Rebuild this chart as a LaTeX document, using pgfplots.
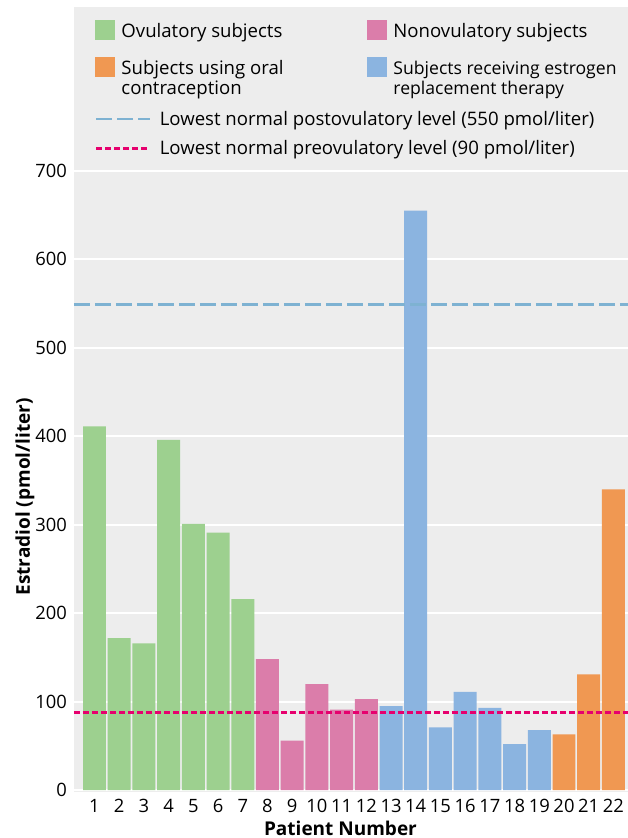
\documentclass[border=0pt]{standalone}
\usepackage{fontspec}
\setmainfont{Open Sans}
\usepackage{pgfplots}
\pgfplotsset{compat=1.18}
\definecolor{cgreen}{RGB}{157,208,143}
\definecolor{cpink}{RGB}{219,125,170}
\definecolor{cblue}{RGB}{139,180,224}
\definecolor{corange}{RGB}{240,152,82}
\definecolor{bg}{RGB}{237,237,237}
\definecolor{lblue}{RGB}{126,178,210}
\definecolor{lred}{RGB}{230,0,110}
\begin{document}
\begin{tikzpicture}
\pgfplotsset{
 common/.style={
  scale only axis, width=277pt, height=392.5pt,
  xmin=0.17, xmax=22.59, ymin=-2, ymax=885,
  axis line style={draw=none},
  /pgf/number format/assume math mode=true,
  major tick length=0pt,
 }
}
\begin{axis}[common,
  axis background/.style={fill=bg},
  ybar, bar width=0.93, bar shift=0pt,
  xtick={1,...,22}, ytick={0,100,...,700},
  ymajorgrids, grid style={white, line width=0.9pt},
  tick label style={font=\fontsize{9.2}{10}\selectfont, black},
  ylabel={Estradiol (pmol/liter)}, xlabel={Patient Number},
  every axis y label/.style={at={(rel axis cs:0,0.376)}, rotate=90, anchor=center, yshift=24.5pt,
     font=\bfseries\fontsize{9.5}{11}\selectfont},
  every axis x label/.style={at={(rel axis cs:0.481,0)}, anchor=center, yshift=-18pt,
     font=\bfseries\fontsize{9.5}{11}\selectfont},
  legend columns=2,
  legend cell align=left,
  legend image code/.code={\fill[#1] (0pt,-1.2pt) rectangle (10pt,8.7pt);},
  legend style={at={(rel axis cs:0.038,0.985)}, anchor=north west, draw=none, fill=none,
     font=\fontsize{9.3}{10}\selectfont, row sep=6pt, inner sep=0pt,
     cells={anchor=base west},
     /tikz/every odd column/.append style={column sep=1pt},
     /tikz/every even column/.append style={column sep=0pt}},
]
\coordinate (SW) at (rel axis cs:0,0);
\coordinate (NE) at (rel axis cs:1,1);
\addplot[draw=none, fill=cgreen] coordinates {(1,411) (2,172) (3,166) (4,396) (5,301) (6,291) (7,216)};
\addlegendentry{\makebox[121pt][l]{Ovulatory subjects}}
\addplot[draw=none, fill=cpink] coordinates {(8,148) (9,56) (10,120) (11,91) (12,103)};
\addlegendentry{Nonovulatory subjects}
\addplot[draw=none, fill=corange] coordinates {(20,63) (21,131) (22,340)};
\addlegendentry{\parbox[t]{121pt}{Subjects using oral\\contraception}}
\addplot[draw=none, fill=cblue] coordinates {(13,95) (14,655) (15,71) (16,111) (17,93) (18,52) (19,68)};
\addlegendentry{\parbox[t]{125pt}{\fontsize{8.8}{10}\selectfont Subjects receiving estrogen\\replacement therapy}}
\end{axis}
\begin{axis}[common,
  axis lines=none, xtick=\empty, ytick=\empty,
  legend cell align=left,
  legend image code/.code={\draw[#1] (0pt,3pt) -- (27pt,3pt);},
  legend style={at={(rel axis cs:0.0375,0.873)}, anchor=north west, draw=none, fill=none,
     font=\fontsize{9.3}{10}\selectfont, row sep=2pt, inner sep=0pt,
     cells={anchor=base west},
     /tikz/every odd column/.append style={column sep=2pt}},
]
\addplot[lblue, line width=1.2pt, dash pattern=on 8pt off 2.5pt] coordinates {(0.17,549) (22.59,549)};
\addlegendentry{Lowest normal postovulatory level (550 pmol/liter)}
\addplot[lred, line width=1.3pt, dash pattern=on 3pt off 1.5pt] coordinates {(0.17,88) (22.59,88)};
\addlegendentry{Lowest normal preovulatory level (90 pmol/liter)}
\end{axis}
\pgfresetboundingbox
\path ([shift={(-37pt,-23pt)}]SW) rectangle ([shift={(0pt,3.5pt)}]NE);
\end{tikzpicture}
\end{document}
